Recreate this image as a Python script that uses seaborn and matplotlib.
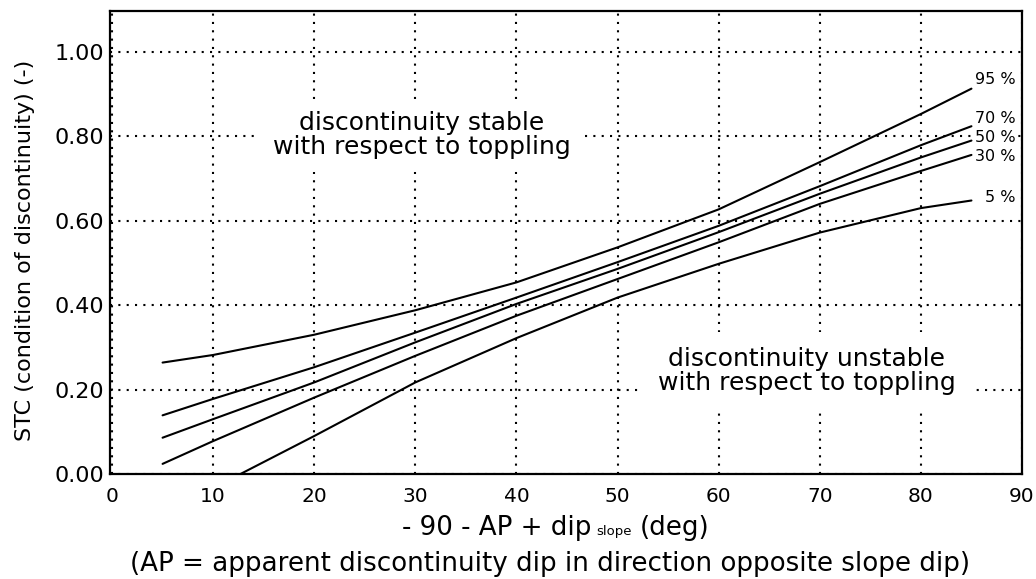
import matplotlib
matplotlib.use("Agg")
import matplotlib.pyplot as plt
import pandas as pd
import seaborn as sns

# ---------------- data ----------------
x_main = [5, 10, 20, 30, 40, 50, 60, 70, 80, 85]
stc_95 = [0.264, 0.282, 0.330, 0.388, 0.454, 0.537, 0.627, 0.739, 0.853, 0.913]
stc_70 = [0.139, 0.178, 0.253, 0.335, 0.418, 0.502, 0.588, 0.682, 0.779, 0.824]
stc_50 = [0.086, 0.130, 0.217, 0.312, 0.403, 0.486, 0.573, 0.664, 0.750, 0.790]
stc_30 = [0.024, 0.078, 0.181, 0.280, 0.375, 0.462, 0.549, 0.640, 0.718, 0.756]
x_5 = [12.7, 20, 30, 40, 50, 60, 70, 80, 85]
stc_5 = [0.000, 0.090, 0.217, 0.322, 0.418, 0.498, 0.572, 0.630, 0.648]

curve_names = ["95 %", "70 %", "50 %", "30 %", "5 %"]
curve_label_y = [0.934, 0.843, 0.798, 0.753, 0.656]

x_ticks = [0, 10, 20, 30, 40, 50, 60, 70, 80, 90]
y_ticks = [0.0, 0.2, 0.4, 0.6, 0.8, 1.0]
y_tick_labels = ["0.00", "0.20", "0.40", "0.60", "0.80", "1.00"]

text_stable = "discontinuity stable\nwith respect to toppling"
text_unstable = "discontinuity unstable\nwith respect to toppling"
ylabel = "STC (condition of discontinuity) (-)"
xlabel_main = "- 90 - AP + dip"
xlabel_sub = "slope"
xlabel_end = "(deg)"
xlabel_note = "(AP = apparent discontinuity dip in direction opposite slope dip)"

# ---------------- frame ----------------
series = [(curve_names[0], x_main, stc_95), (curve_names[1], x_main, stc_70),
          (curve_names[2], x_main, stc_50), (curve_names[3], x_main, stc_30),
          (curve_names[4], x_5, stc_5)]
df = pd.concat([pd.DataFrame({"x": xs, "stc": ys, "curve": n}) for n, xs, ys in series],
               ignore_index=True)

sns.set_theme(style="white")
plt.rcParams['font.family'] = ['DejaVu Sans']

W, H = 1036, 579
fig = plt.figure(figsize=(W / 100, H / 100), dpi=100)
ax = fig.add_axes([110 / W, 1 - 474 / H, (1022 - 110) / W, (474 - 11) / H])

sns.lineplot(data=df, x="x", y="stc", hue="curve",
             palette={n: "black" for n in curve_names},
             linewidth=1.5, legend=False, estimator=None, ax=ax)

ax.set_xlim(-0.2, 90)
ax.set_ylim(0, 1.097)
ax.set_xticks(x_ticks)
ax.set_xticklabels([str(t) for t in x_ticks], fontsize=14.5)
ax.set_yticks(y_ticks)
ax.set_yticklabels(y_tick_labels, fontsize=16)
ax.tick_params(axis="both", length=0, colors="black")
ax.tick_params(axis="x", pad=9)
ax.tick_params(axis="y", pad=4)
ax.set_xlabel("")
ax.set_ylabel("")
ax.set_axisbelow(True)
ax.grid(True, color="black", linestyle=(0, (1, 3)), linewidth=1.5)
for s in ax.spines.values():
    s.set_visible(True)
    s.set_color("black")
    s.set_linewidth(1.6)

# region annotations (white boxes interrupt the grid like the original)
ax.text(30.6, 0.803, text_stable, ha="center", va="center", fontsize=18,
        linespacing=1.0, color="black",
        bbox=dict(facecolor="white", edgecolor="none", pad=9))
ax.text(68.7, 0.243, text_unstable, ha="center", va="center", fontsize=18,
        linespacing=1.0, color="black",
        bbox=dict(facecolor="white", edgecolor="none", pad=11))

for n, yy in zip(curve_names, curve_label_y):
    ax.text(89.4, yy, n, ha="right", va="center", fontsize=11.5, color="black",
            bbox=dict(facecolor="white", edgecolor="none", pad=1))

# y label
fig.text(25 / W, 1 - 250 / H, ylabel, rotation=90, ha="center", va="center",
         fontsize=16, color="black")

# x label with small "slope" subscript
base1 = 1 - 535 / H
t1 = fig.text(402 / W, base1, xlabel_main, ha="left", va="baseline", fontsize=18.8, color="black")
fig.canvas.draw()
r = fig.canvas.get_renderer()
bb1 = t1.get_window_extent(r)
t2 = fig.text(bb1.x1 / W + 5 / W, base1, xlabel_sub, ha="left", va="baseline",
              fontsize=9.5, color="black")
bb2 = t2.get_window_extent(r)
fig.text(bb2.x1 / W + 8 / W, base1, xlabel_end, ha="left", va="baseline", fontsize=18.8,
         color="black")

fig.text(550 / W, 1 - 571 / H, xlabel_note, ha="center", va="baseline", fontsize=18.8,
         color="black")

fig.savefig("out.png", dpi=100, facecolor="white")
